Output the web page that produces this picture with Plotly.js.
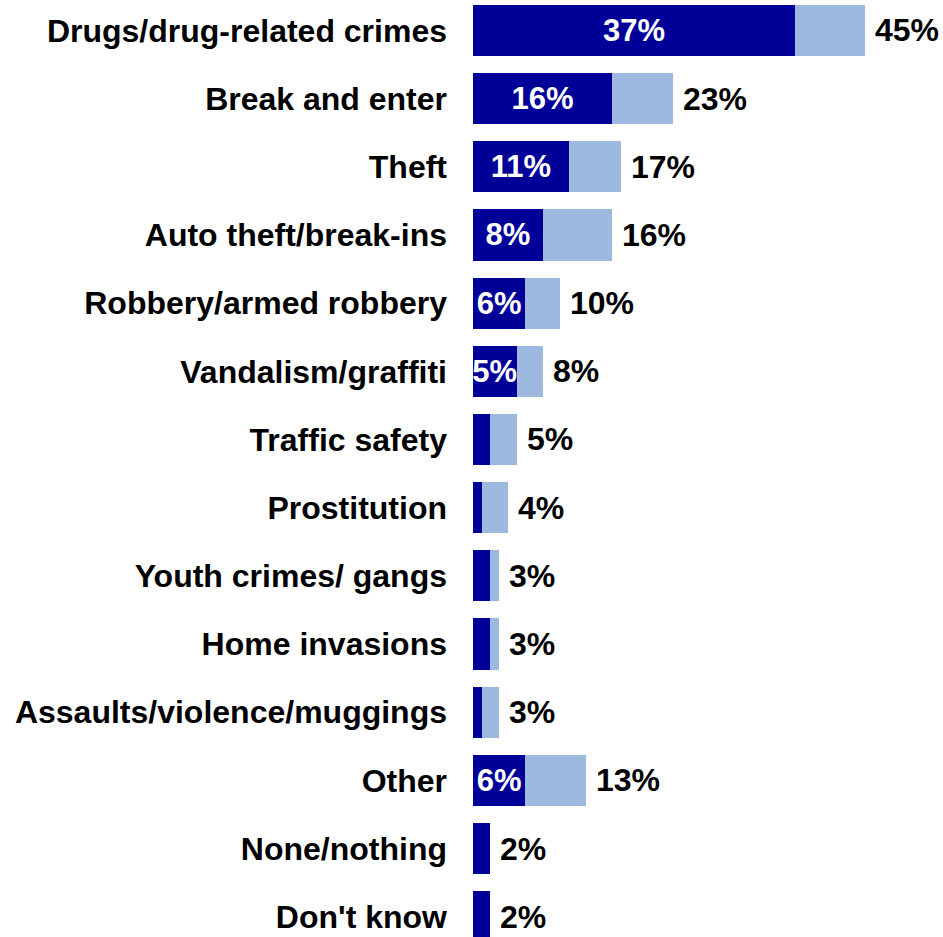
<!DOCTYPE html>
<html>
<head>
<meta charset="utf-8">
<script src="https://cdn.plot.ly/plotly-3.0.1.min.js"></script>
<style>html,body{margin:0;padding:0;background:#fff;}#chart{width:943px;height:937px;}</style>
</head>
<body>
<div id="chart"></div>
<script>
const categories = ["Drugs/drug-related crimes","Break and enter","Theft","Auto theft/break-ins","Robbery/armed robbery","Vandalism/graffiti","Traffic safety","Prostitution","Youth crimes/ gangs","Home invasions","Assaults/violence/muggings","Other","None/nothing","Don't know"];
const firstMention = [37,16,11,8,6,5,2,1,2,2,1,6,2,2];
const totalMentions = [45,23,17,16,10,8,5,4,3,3,3,13,2,2];
const insideLabels = ["37%","16%","11%","8%","6%","5%","","","","","","6%","",""];
const totalLabels = totalMentions.map(v => v + "%");

const otherMentions = totalMentions.map((t, i) => t - firstMention[i]);
const FONT = "Liberation Sans, Arial, sans-serif";

const traces = [
  {
    type: "bar", orientation: "h", y: categories, x: firstMention,
    marker: {color: "#000099"},
    text: insideLabels, textposition: "inside", insidetextanchor: "middle",
    textangle: 0, constraintext: "none",
    insidetextfont: {color: "#ffffff", size: 31, family: FONT, weight: "bold"},
    hoverinfo: "skip"
  },
  {
    type: "bar", orientation: "h", y: categories, x: otherMentions,
    marker: {color: "#9DB9DF"},
    hoverinfo: "skip"
  }
];

const annotations = categories.map((c, i) => ({
  x: totalMentions[i], y: c, xref: "x", yref: "y",
  text: totalLabels[i], showarrow: false, xanchor: "left", yanchor: "middle",
  xshift: 8,
  font: {size: 32, color: "#000", family: FONT, weight: "bold"}
}));

const layout = {
  width: 943, height: 937,
  margin: {l: 473, r: 0, t: 0, b: 0},
  barmode: "stack", bargap: 0.25, showlegend: false,
  paper_bgcolor: "#fff", plot_bgcolor: "#fff",
  font: {family: FONT, color: "#000"},
  xaxis: {range: [0, 54], visible: false, fixedrange: true},
  yaxis: {
    type: "category", categoryorder: "array", categoryarray: categories,
    range: [13.298, -0.447], ticks: "", showline: false, showgrid: false, zeroline: false,
    ticklabelstandoff: 25,
    tickfont: {size: 32, color: "#000", family: FONT, weight: "bold"}
  },
  annotations: annotations
};

Plotly.newPlot("chart", traces, layout, {displayModeBar: false, staticPlot: true});
</script>
</body>
</html>
